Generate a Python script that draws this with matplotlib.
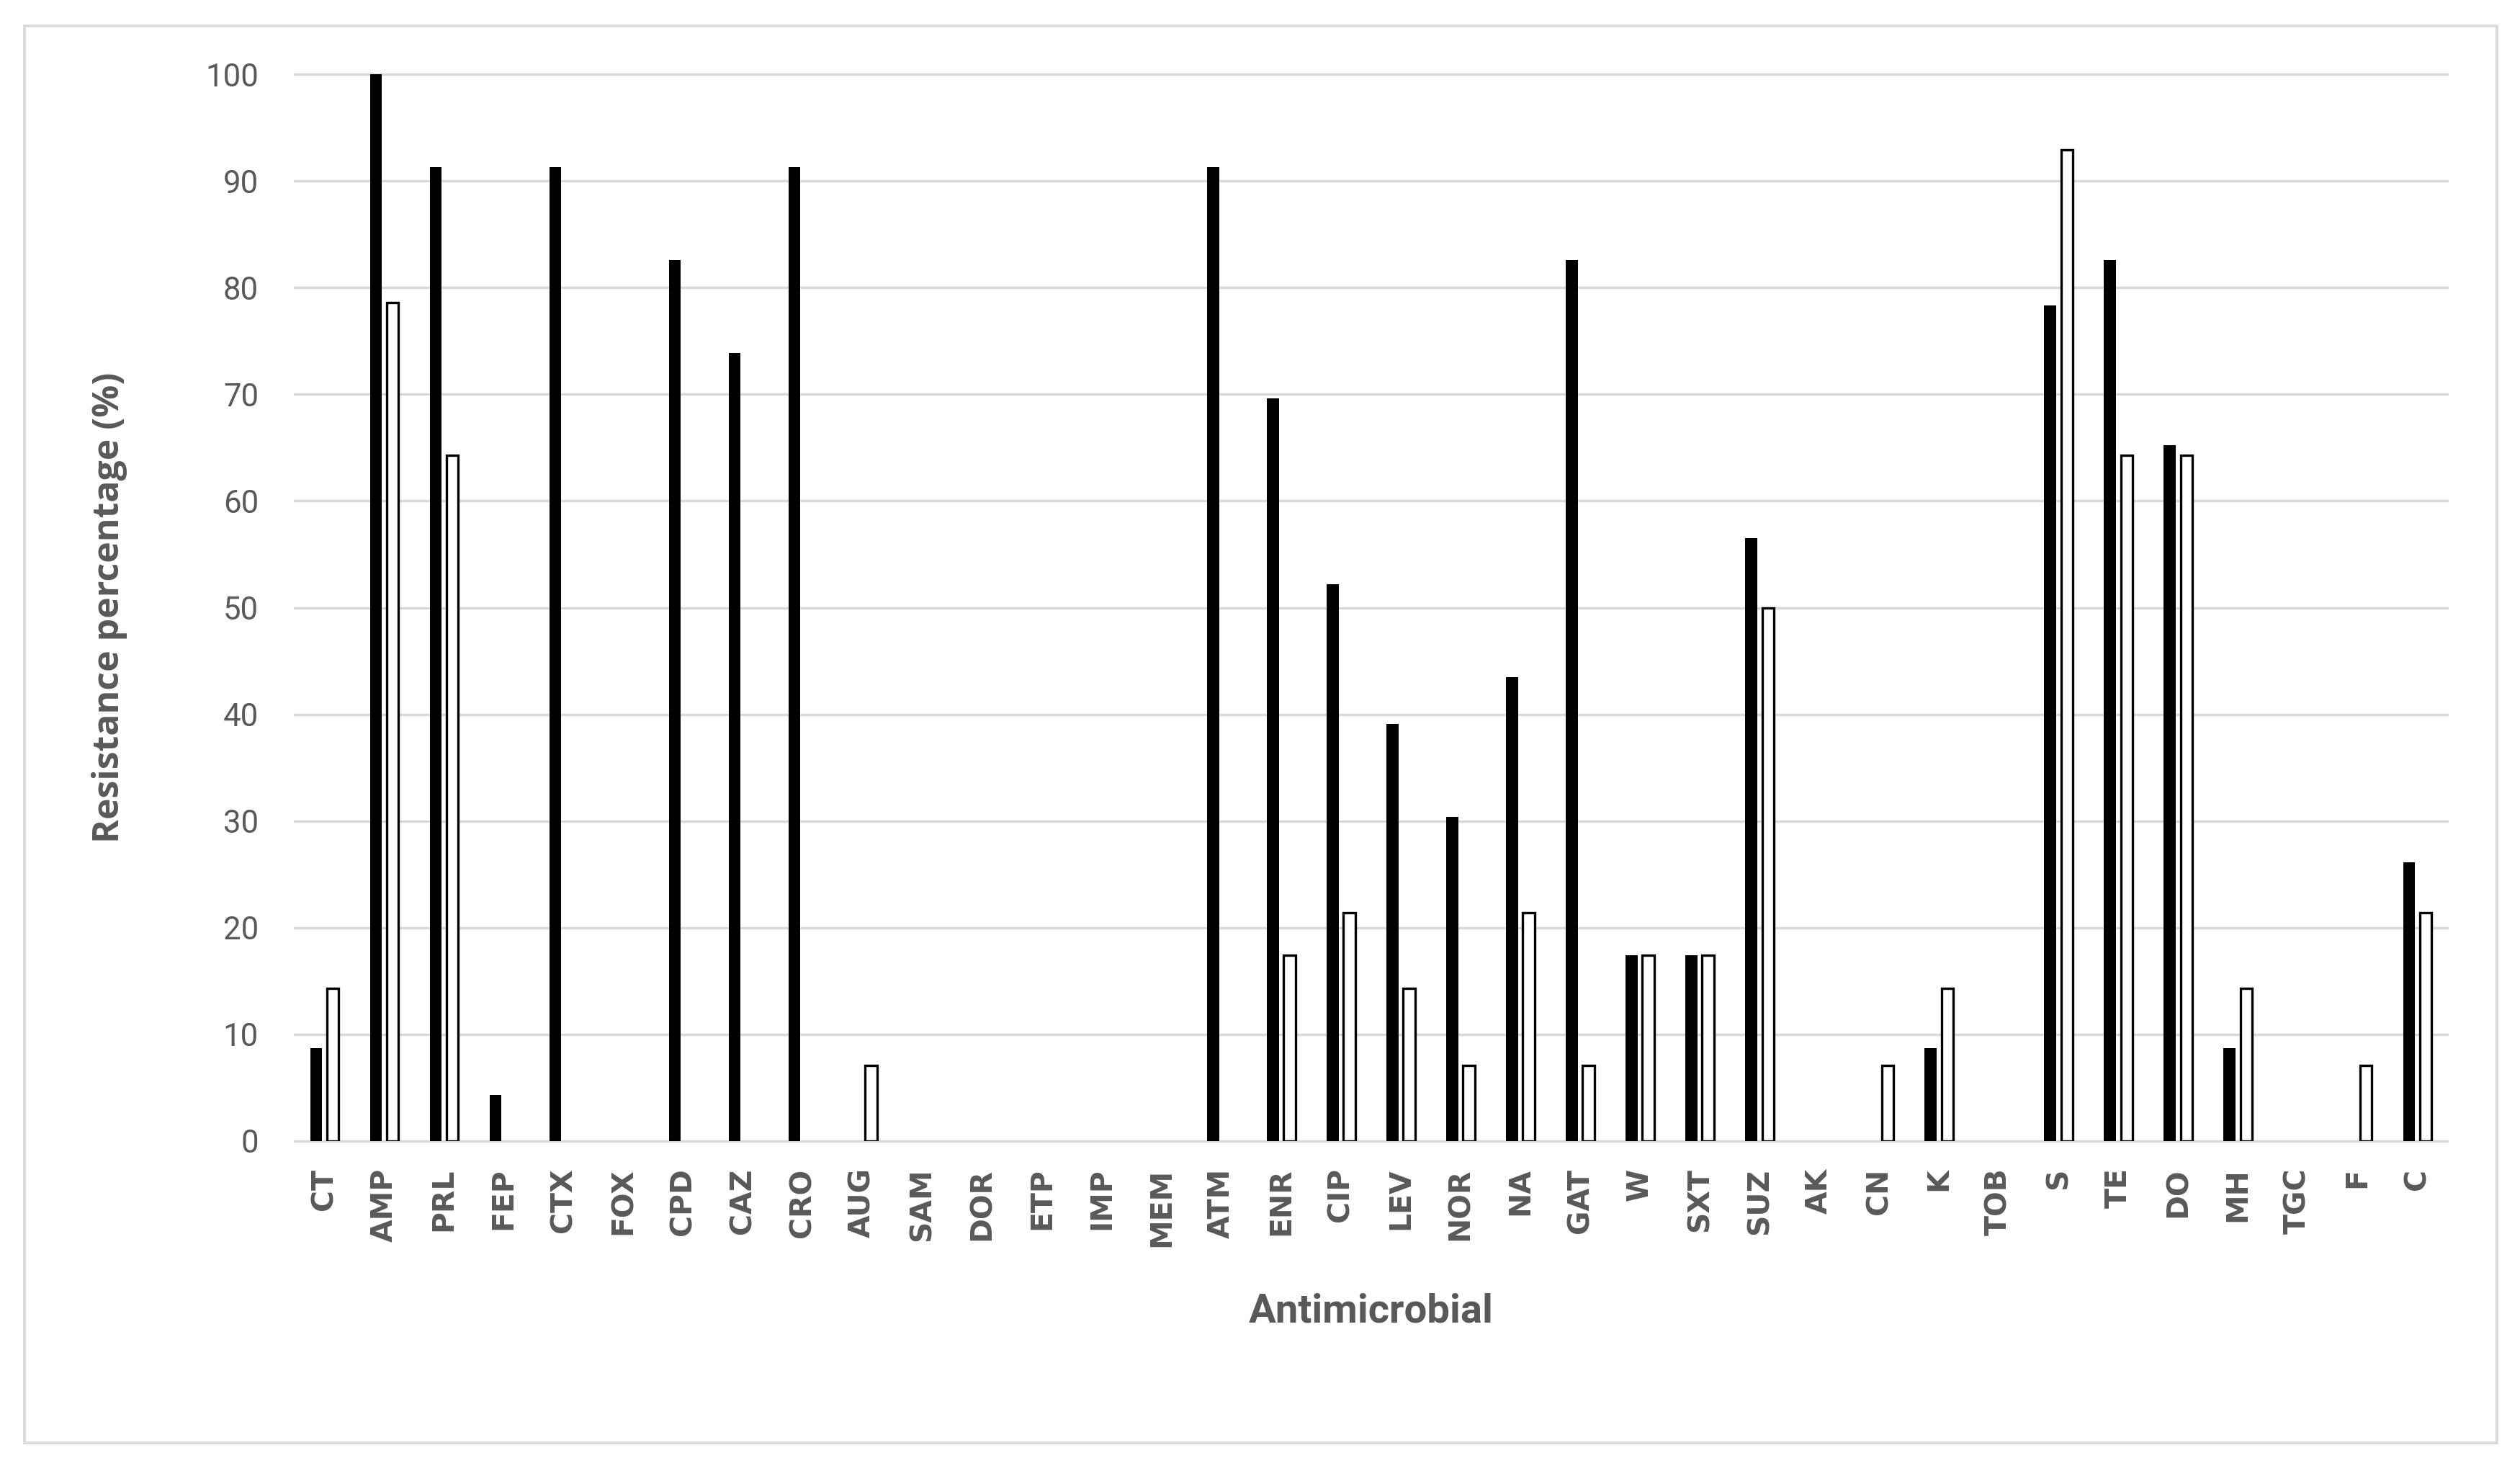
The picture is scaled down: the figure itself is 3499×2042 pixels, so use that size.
import matplotlib
matplotlib.use("Agg")
import matplotlib.pyplot as plt
from matplotlib.patches import Rectangle
import numpy as np

# antimicrobials on the x axis
drugs = ["CT", "AMP", "PRL", "FEP", "CTX", "FOX", "CPD", "CAZ", "CRO", "AUG",
         "SAM", "DOR", "ETP", "IMP", "MEM", "ATM", "ENR", "CIP", "LEV", "NOR",
         "NA", "GAT", "W", "SXT", "SUZ", "AK", "CN", "K", "TOB", "S",
         "TE", "DO", "MH", "TGC", "F", "C"]

# resistance (%) - black filled series
black_vals = [8.7, 100, 91.3, 4.3, 91.3, 0, 82.6, 73.9, 91.3, 0,
              0, 0, 0, 0, 0, 91.3, 69.6, 52.2, 39.1, 30.4,
              43.5, 82.6, 17.4, 17.4, 56.5, 0, 0, 8.7, 0, 78.3,
              82.6, 65.2, 8.7, 0, 0, 26.1]

# resistance (%) - white outlined series
white_vals = [14.3, 78.6, 64.3, 0, 0, 0, 0, 0, 0, 7.1,
              0, 0, 0, 0, 0, 0, 17.4, 21.4, 14.3, 7.1,
              21.4, 7.1, 17.4, 17.4, 50, 0, 7.1, 14.3, 0, 92.9,
              64.3, 64.3, 14.3, 0, 7.1, 21.4]

y_ticks = [0, 10, 20, 30, 40, 50, 60, 70, 80, 90, 100]

W, H = 3499, 2042
fig = plt.figure(figsize=(W / 300, H / 300), dpi=300)
ax = fig.add_axes([409 / W, 1 - 1584 / H, (3398 - 409) / W, (1584 - 103) / H])

grey = "#595959"
grid_c = "#d9d9d9"

# outer chart border
fig.patches.append(Rectangle((34 / W, 1 - 2003 / H), (3467 - 34) / W, (2003 - 36) / H,
                             transform=fig.transFigure, fill=False,
                             edgecolor=grid_c, linewidth=0.9))

x = np.arange(len(drugs))
bv = np.array(black_vals)
wv = np.array(white_vals)
bw = 0.2
off = 0.14

for t in y_ticks:
    ax.axhline(t, color=grid_c, linewidth=0.8, zorder=0, clip_on=False)

# zero values are not drawn at all in the original
mb = bv > 0
mw = wv > 0
ax.bar(x[mb] - off, bv[mb], width=bw, color="black", zorder=2)
ax.bar(x[mw] + off, wv[mw], width=bw, color="white", edgecolor="black",
       linewidth=0.8, zorder=2)

ax.set_xlim(-0.5, len(drugs) - 0.5)
ax.set_ylim(0, 100)
ax.set_yticks(y_ticks)
ax.set_xticks(x)
ax.set_xticklabels(drugs, rotation=90, fontsize=9.8, fontweight="bold",
                   color=grey, family="DejaVu Sans")
ax.tick_params(axis="x", length=0, pad=9)
ax.tick_params(axis="y", length=0, pad=12, labelsize=10.5, labelcolor=grey)
for lab in ax.get_yticklabels():
    lab.set_family(["Liberation Sans Narrow", "Roboto"])

for s in ax.spines.values():
    s.set_visible(False)

ax.set_ylabel("Resistance percentage (%)", fontsize=12, fontweight="bold",
              color=grey, family="Open Sans")
ax.yaxis.set_label_coords((152 - 409) / (3398 - 409), 0.5)
ax.set_xlabel("Antimicrobial", fontsize=13.5, fontweight="bold", color=grey,
              family=["Liberation Sans Narrow", "Roboto"])
ax.xaxis.set_label_coords(0.5, -(1821 - 1584) / (1584 - 103))
ax.xaxis.label.set_va("center")
ax.yaxis.label.set_va("center")

fig.savefig("out.png", dpi=300)
